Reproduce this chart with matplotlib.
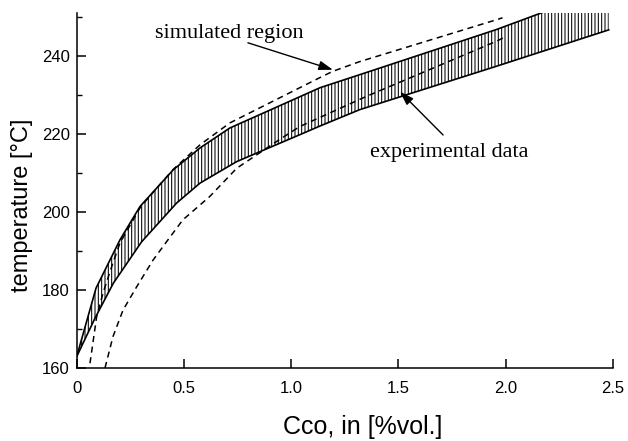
import numpy as np
import matplotlib
matplotlib.use("Agg")
import matplotlib.pyplot as plt
from matplotlib.ticker import MultipleLocator

# experimental band: upper and lower boundary (solid lines)
exp_upper_x = [0.0, 0.090, 0.155, 0.202, 0.295, 0.450, 0.575, 0.714, 1.134, 1.367, 1.957, 2.144, 2.48]
exp_upper_y = [163.0, 180.5, 187.7, 192.9, 201.4, 210.8, 216.4, 221.5, 231.8, 236.0, 246.7, 250.5, 257.4]
exp_lower_x = [0.0, 0.085, 0.171, 0.303, 0.466, 0.575, 0.746, 1.041, 1.134, 1.320, 1.957, 2.48]
exp_lower_y = [163.0, 172.8, 181.8, 192.4, 202.3, 207.4, 212.9, 219.8, 222.0, 226.2, 237.3, 246.6]

# simulated region: two dashed curves
sim_upper_x = [0.062, 0.093, 0.123, 0.169, 0.202, 0.300, 0.450, 0.575, 0.714, 1.134, 1.194, 1.320, 1.957, 1.985]
sim_upper_y = [161.3, 173.2, 179.3, 187.0, 192.1, 201.5, 210.9, 217.2, 222.8, 234.4, 236.0, 238.5, 249.2, 249.7]
sim_lower_x = [0.132, 0.169, 0.216, 0.280, 0.356, 0.419, 0.495, 0.621, 0.746, 0.947, 1.041, 1.134, 1.351, 1.957, 1.990]
sim_lower_y = [160.1, 168.1, 174.9, 180.9, 187.7, 192.4, 198.0, 204.0, 211.2, 218.6, 221.9, 224.2, 229.6, 243.7, 244.6]

x_ticks = [0, 0.5, 1.0, 1.5, 2.0, 2.5]
x_tick_labels = ["0", "0.5", "1.0", "1.5", "2.0", "2.5"]
y_ticks = [160, 180, 200, 220, 240]

plt.rcParams['font.family'] = ['Liberation Sans', 'DejaVu Sans']

fig = plt.figure(figsize=(6.28, 4.41), dpi=100)
ax = fig.add_axes([76.7 / 628, 1 - 368.3 / 441, (613 - 76.7) / 628, (368.3 - 12.7) / 441])

plt.rcParams['hatch.linewidth'] = 0.75
poly_x = np.r_[exp_upper_x, exp_lower_x[::-1]]
poly_y = np.r_[exp_upper_y, exp_lower_y[::-1]]
ax.fill(poly_x, poly_y, facecolor='none', edgecolor='black', hatch='|||||', linewidth=0)

ax.plot(exp_upper_x, exp_upper_y, color='black', lw=1.2, solid_joinstyle='miter')
ax.plot(exp_lower_x, exp_lower_y, color='black', lw=1.2, solid_joinstyle='miter')
ax.plot(sim_upper_x, sim_upper_y, color='black', lw=1.1, dashes=(4, 3))
ax.plot(sim_lower_x, sim_lower_y, color='black', lw=1.1, dashes=(4, 3))

ax.set_xlim(0, 2.5)
ax.set_ylim(160, 251)
ax.set_xticks(x_ticks)
ax.set_xticklabels(x_tick_labels)
ax.set_yticks(y_ticks)
ax.yaxis.set_minor_locator(MultipleLocator(10))

for s in ['top', 'right']:
    ax.spines[s].set_visible(False)
for s in ['left', 'bottom']:
    ax.spines[s].set_linewidth(1.1)

ax.tick_params(axis='both', which='major', direction='in', length=6.5, width=1.1, labelsize=12)
ax.tick_params(axis='y', which='minor', direction='in', length=3.5, width=1.0)
ax.tick_params(axis='x', which='major', pad=9)
ax.tick_params(axis='y', which='major', pad=5)

ax.set_xlabel("Cco, in [%vol.]", fontsize=18)
ax.xaxis.set_label_coords(0.533, -0.132)
ax.set_ylabel("temperature [°C]", fontsize=17)
ax.yaxis.set_label_coords(-0.082, 0.459)

serif = ['Liberation Serif', 'DejaVu Serif']
ax.text(0.365, 244.6, "simulated region", family=serif, fontsize=16, ha='left', va='baseline')
ax.text(1.367, 214.1, "experimental data", family=serif, fontsize=16, ha='left', va='baseline')

arrow = dict(arrowstyle='-|>,head_length=0.6,head_width=0.2', color='black', lw=1.0,
             mutation_scale=14, shrinkA=0, shrinkB=0)
ax.annotate('', xy=(1.194, 236.4), xytext=(0.798, 243.3), arrowprops=arrow)
ax.annotate('', xy=(1.507, 230.8), xytext=(1.708, 219.7), arrowprops=arrow)

fig.savefig("out.png", dpi=100)
